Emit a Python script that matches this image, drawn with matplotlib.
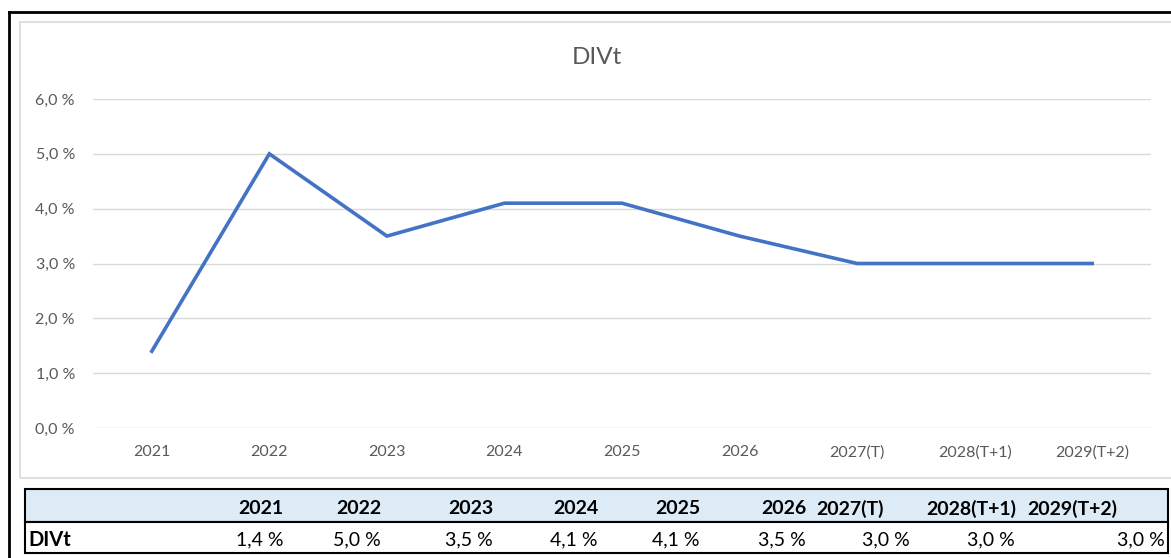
import matplotlib
matplotlib.use("Agg")
import matplotlib.pyplot as plt
from matplotlib.patches import Rectangle
from matplotlib.lines import Line2D

categories = ["2021", "2022", "2023", "2024", "2025", "2026", "2027(T)", "2028(T+1)", "2029(T+2)"]
divt = [1.4, 5.0, 3.5, 4.1, 4.1, 3.5, 3.0, 3.0, 3.0]
value_labels = ["1,4 %", "5,0 %", "3,5 %", "4,1 %", "4,1 %", "3,5 %", "3,0 %", "3,0 %", "3,0 %"]
yticks = [0, 1, 2, 3, 4, 5, 6]
ytick_labels = ["0,0 %", "1,0 %", "2,0 %", "3,0 %", "4,0 %", "5,0 %", "6,0 %"]
series_name = "DIVt"

W, H = 1171, 558
fig = plt.figure(figsize=(W / 100, H / 100), dpi=100)
plt.rcParams['font.family'] = ['Lato', 'DejaVu Sans']

def fx(px):
    return px / W

def fy(py):
    return 1 - py / H

# outer black border (sheet frame)
fig.add_artist(Line2D([fx(9), fx(1171)], [fy(12), fy(12)], color="black", lw=2))
fig.add_artist(Line2D([fx(9), fx(9)], [fy(12), fy(558)], color="black", lw=2))
# chart area border
fig.add_artist(Rectangle((fx(20), fy(478)), fx(1180 - 20), fy(22) - fy(478),
                         fill=False, edgecolor="#D9D9D9", lw=1.2))

# plot area
ax = fig.add_axes([fx(93), fy(428), fx(1151 - 93), fy(99) - fy(428)])
x = list(range(len(categories)))
ax.plot(x, divt, color="#4472C4", lw=2.6, solid_joinstyle="miter")
ax.set_xlim(-0.5, len(categories) - 0.5)
ax.set_ylim(0, 6)
ax.set_yticks(yticks)
ax.set_yticklabels(ytick_labels)
ax.set_xticks(x)
ax.set_xticklabels(categories)
ax.grid(axis="y", color="#D9D9D9", lw=1)
ax.set_axisbelow(True)
for s in ax.spines.values():
    s.set_visible(False)
ax.tick_params(axis="both", length=0, colors="#595959", labelsize=11.5)
ax.tick_params(axis="y", pad=13)
ax.tick_params(axis="x", pad=12.6)
fig.text(fx(597), fy(58), series_name, ha="center", va="center", fontsize=17.5, color="#595959")

# table below chart
tl, tr = 25, 1168
t_top, t_mid, t_bot = 489, 522, 553
fig.add_artist(Rectangle((fx(tl), fy(t_mid)), fx(tr - tl), fy(t_top) - fy(t_mid),
                         facecolor="#DDEBF7", edgecolor="black", lw=1.5))
fig.add_artist(Rectangle((fx(tl), fy(t_bot)), fx(tr - tl), fy(t_mid) - fy(t_bot),
                         facecolor="white", edgecolor="black", lw=1.5))

header_right = [283, 381, 493, 598, 700, 806, 884, 1016, 1117]
value_right = [283, 381, 493, 598, 700, 806, 910, 1015, 1165]
for c, xr in zip(categories, header_right):
    fig.text(fx(xr), fy(508.5), c, ha="right", va="center", fontsize=14,
             fontweight="bold", color="black")
for v, xr in zip(value_labels, value_right):
    fig.text(fx(xr), fy(540), v, ha="right", va="center", fontsize=14, color="black")
fig.text(fx(28), fy(540), series_name, ha="left", va="center", fontsize=14.5,
         fontweight="bold", color="black")

fig.savefig("out.png", dpi=100)
